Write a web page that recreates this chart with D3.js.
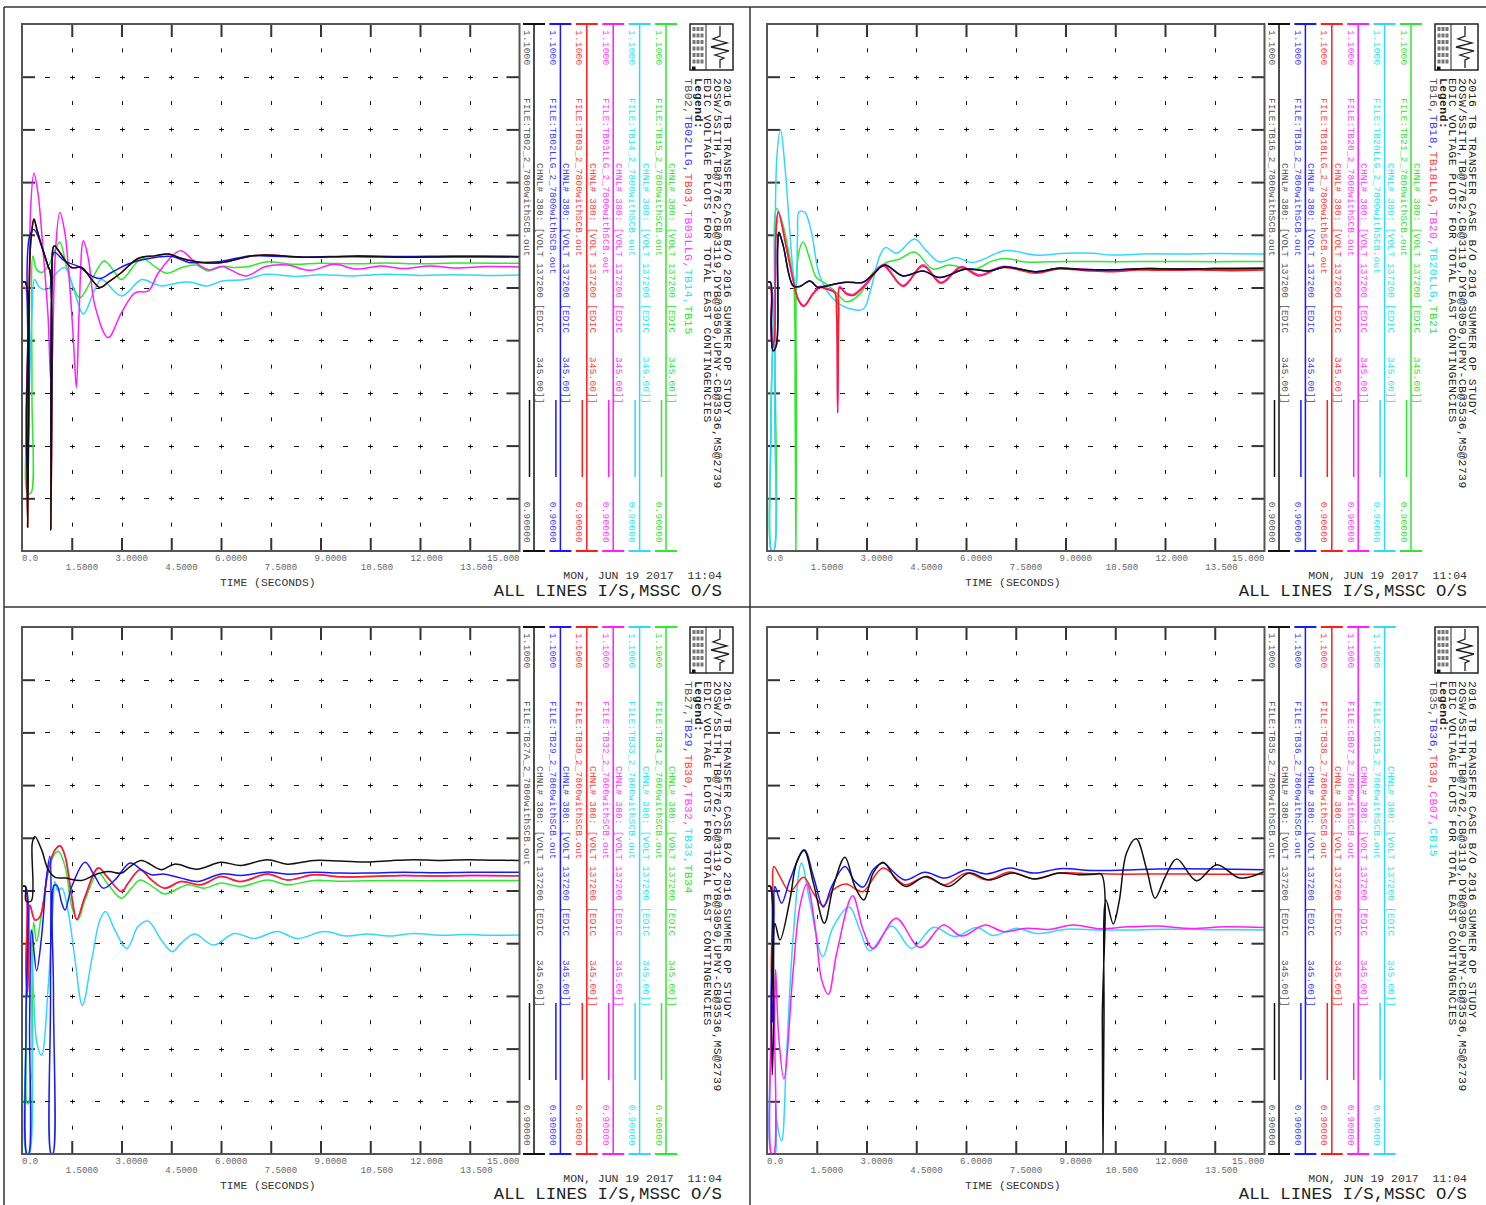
<!DOCTYPE html>
<html><head><meta charset="utf-8">
<script src="https://cdn.jsdelivr.net/npm/d3@7"></script>
<style>
body{margin:0;background:#fff;}
svg{display:block;}
text{font-family:"Liberation Mono","DejaVu Sans Mono",monospace;white-space:pre;}
</style></head><body>
<svg id="chart" width="1486" height="1205"></svg>
<script>
// ---- axes ----
const timeTicks = [0, 1.5, 3, 4.5, 6, 7.5, 9, 10.5, 12, 13.5, 15];
const timeLabels = ["0.0","1.5000","3.0000","4.5000","6.0000","7.5000","9.0000","10.500","12.000","13.500","15.000"];
const voltDomain = [0.9, 1.1];
const voltTopLabel = "1.1000";
const voltBottomLabel = "0.90000";
const seriesColors = ["#111111","#1616ff","#ff1c1c","#ff1cff","#33d6ff","#2ee82e"];
const labelColors  = ["#555555","#3a3aff","#ff4040","#ff40ff","#22e6f0","#33e033"];

const titleLines = [
  "2016 TB TRANSFER CASE B/O 2016 SUMMER OP STUDY",
  "2OSW/5SITH,TB@7762,CB@3119,DYB@3050,UPNY-CB@3536,MS@2739",
  "EDIC VOLTAGE PLOTS FOR TOTAL EAST CONTINGENCIES"
];
const channelLabel = "CHNL# 380: [VOLT 137200 [EDIC    345.00]]";
const runStamp = "MON, JUN 19 2017  11:04";
const caseLabel = "ALL LINES I/S,MSSC O/S";
const timeTitle = "TIME (SECONDS)";

// ---- bus voltage traces [time s, volt pu] ----
// Plot 1
const tb02 = [[0,1.002],[0.1,1.002],[0.14,0.95],[0.17,0.909],[0.2,0.95],[0.24,1.012],[0.3,1.022],[0.36,1.026],[0.45,1.022],[0.59,1.0158],[0.79,1.008],[0.85,1.006],[0.87,0.908],[0.9,1.0],[0.97,1.0158],[1.14,1.0133],[1.49,1.0076],[1.8,1.0076],[2.1,1.003],[2.35,1.0],[2.6,1.002],[3.0,1.0057],[3.5,1.011],[4.0,1.012],[4.42,1.0127],[4.82,1.011],[5.43,1.0095],[6.03,1.0095],[6.84,1.0118],[7.35,1.0123],[8.5,1.0115],[10,1.0118],[11.5,1.0115],[13,1.0117],[15,1.0116]];
const tb02llg = [[0,1.002],[0.1,1.002],[0.13,0.94],[0.17,0.93],[0.2,0.96],[0.23,1.0196],[0.36,1.022],[0.59,1.0158],[0.79,1.008],[0.85,1.006],[0.87,0.94],[0.9,1.0],[0.97,1.0133],[1.29,1.010],[1.7,1.008],[2.1,1.0044],[2.35,1.0034],[2.7,1.0057],[3.2,1.0089],[3.81,1.011],[4.52,1.0118],[5.03,1.0095],[5.43,1.0095],[6.03,1.010],[6.84,1.012],[7.35,1.012],[8.5,1.0115],[10,1.012],[11.5,1.0118],[13,1.012],[15,1.0118]];
const tb03 = [[0,1.002],[0.1,1.002],[0.14,0.95],[0.17,0.909],[0.2,0.95],[0.24,1.012],[0.3,1.022],[0.36,1.026],[0.45,1.022],[0.59,1.0158],[0.79,1.008],[0.85,1.006],[0.87,0.908],[0.9,1.0],[0.97,1.0158],[1.14,1.0133],[1.49,1.0076],[1.8,1.0076],[2.1,1.003],[2.35,1.0],[2.6,1.002],[3.0,1.0057],[3.5,1.011],[4.0,1.012],[4.42,1.0127],[4.82,1.011],[5.43,1.0095],[6.03,1.0095],[6.84,1.0118],[7.35,1.0123],[8.5,1.0115],[10,1.0118],[11.5,1.0115],[13,1.0117],[15,1.0116]];
const tb03llg = [[0,1.0],[0.1,1.0],[0.13,0.95],[0.17,0.93],[0.21,0.96],[0.26,1.03],[0.36,1.0434],[0.48,1.036],[0.64,1.0133],[0.79,0.988],[0.85,0.968],[0.88,0.9637],[0.92,0.975],[1.0,1.012],[1.14,1.0285],[1.29,1.021],[1.44,1.0006],[1.55,0.98],[1.64,0.962],[1.72,0.99],[1.85,1.0177],[2.0,1.011],[2.2,0.993],[2.6,0.981],[3.0,0.9905],[3.41,0.998],[3.81,0.9987],[4.12,1.0057],[4.77,1.0139],[5.23,1.0095],[5.63,1.0067],[6.03,1.008],[6.74,1.0044],[7.35,1.008],[8.0,1.0085],[8.7,1.0065],[9.4,1.0088],[10.1,1.007],[10.8,1.0082],[11.5,1.0072],[12.3,1.0082],[13.1,1.0074],[14,1.008],[15,1.0078]];
const tb14 = [[0,1.002],[0.1,1.002],[0.13,0.95],[0.17,0.933],[0.22,0.96],[0.3,0.99],[0.38,1.003],[0.53,1.0],[0.79,0.9994],[0.97,1.0044],[1.29,1.0076],[1.59,0.998],[1.85,0.9899],[2.2,0.9994],[2.4,1.003],[3.0,0.9968],[3.61,1.003],[4.0,1.0013],[4.2,1.0006],[4.82,1.002],[5.1,1.002],[5.58,1.0006],[6.03,1.0025],[6.74,1.003],[7.35,1.005],[8.2,1.0042],[9,1.0048],[10,1.0044],[11,1.005],[12,1.0046],[13,1.0048],[14,1.0046],[15,1.0047]];
const tb15 = [[0,1.002],[0.1,1.002],[0.13,0.95],[0.17,0.922],[0.27,0.922],[0.3,0.96],[0.33,1.012],[0.43,1.007],[0.59,1.0057],[0.79,1.008],[0.97,1.0133],[1.14,1.0173],[1.39,1.0057],[1.75,0.9962],[2.1,1.003],[2.48,1.0101],[2.8,1.0057],[3.0,1.003],[3.61,1.011],[4.0,1.008],[4.37,1.0054],[4.82,1.0076],[5.23,1.0085],[5.63,1.0063],[6.03,1.008],[6.44,1.0076],[6.84,1.008],[7.35,1.0097],[8.2,1.0088],[9,1.0092],[10,1.009],[11,1.0093],[12,1.009],[13,1.0093],[15,1.0092]];

// Plot 2
const tb16 = [[0,1.002],[0.1,1.002],[0.13,0.985],[0.18,0.976],[0.28,0.978],[0.32,1.015],[0.36,1.021],[0.49,1.0158],[0.79,1.0006],[0.99,1.0004],[1.29,1.0025],[1.54,1.0],[1.79,1.0006],[2.39,1.002],[2.9,1.002],[3.2,1.005],[3.55,1.0085],[4.1,1.0044],[4.7,1.0063],[5.2,1.0038],[6.0,1.007],[6.7,1.0063],[7.2,1.0078],[8.1,1.006],[8.8,1.0073],[9.6,1.0068],[10.4,1.0067],[11.5,1.0072],[12.5,1.007],[13.5,1.0072],[15,1.0073]];
const tb18 = [[0,1.002],[0.1,1.002],[0.13,0.985],[0.18,0.976],[0.28,0.978],[0.32,1.015],[0.36,1.021],[0.49,1.0158],[0.79,1.0006],[0.99,1.0004],[1.29,1.0025],[1.54,1.0],[1.79,1.0006],[2.39,1.002],[2.9,1.002],[3.2,1.005],[3.55,1.0085],[4.1,1.0044],[4.7,1.0063],[5.2,1.0038],[6.0,1.007],[6.7,1.0063],[7.2,1.0078],[8.1,1.006],[8.8,1.0073],[9.6,1.0068],[10.4,1.0067],[11.5,1.0072],[12.5,1.007],[13.5,1.0072],[15,1.0073]];
const tb18llg = [[0,1.0],[0.1,1.0],[0.12,0.985],[0.16,0.977],[0.22,0.98],[0.27,1.02],[0.34,1.0285],[0.59,1.0146],[0.79,1.0025],[0.95,0.995],[1.11,0.9928],[1.39,0.9975],[1.59,1.0],[1.79,0.9994],[2.04,0.998],[2.1,0.99],[2.13,0.9525],[2.16,0.99],[2.19,1.0],[2.39,0.9975],[2.6,0.997],[3.0,1.0013],[3.5,1.0082],[4.1,1.0004],[4.7,1.0082],[5.25,1.0016],[5.85,1.0076],[6.4,1.0044],[7.1,1.0076],[8.1,1.0054],[8.8,1.007],[9.6,1.0064],[10.4,1.006],[11.2,1.0066],[12,1.0065],[13,1.0066],[14,1.0064],[15,1.0066]];
const tb20 = [[0,1.0],[0.1,1.0],[0.12,0.985],[0.16,0.977],[0.22,0.98],[0.27,1.021],[0.34,1.0289],[0.59,1.015],[0.79,1.0029],[0.95,0.9954],[1.11,0.9932],[1.39,0.9979],[1.59,1.0004],[1.79,0.9998],[2.04,0.9984],[2.1,0.99],[2.13,0.9525],[2.16,0.99],[2.19,1.0004],[2.39,0.9979],[2.6,0.9974],[3.0,1.0017],[3.5,1.0086],[4.1,1.0008],[4.7,1.0086],[5.25,1.002],[5.85,1.008],[6.4,1.0048],[7.1,1.008],[8.1,1.0058],[8.8,1.0074],[9.6,1.0068],[10.4,1.0064],[11.2,1.007],[12,1.0069],[13,1.007],[14,1.0068],[15,1.007]];
const tb20llg = [[0,1.0],[0.1,1.0],[0.12,0.95],[0.14,0.9],[0.2,0.9],[0.23,0.96],[0.3,1.05],[0.41,1.06],[0.54,1.046],[0.69,1.021],[0.79,1.0057],[0.88,1.0],[0.92,1.02],[0.97,1.0287],[1.14,1.0285],[1.34,1.021],[1.59,1.0044],[2.0,0.9956],[2.39,0.9924],[2.9,0.9918],[3.1,0.998],[3.4,1.012],[3.58,1.0152],[3.9,1.013],[4.45,1.0184],[4.8,1.014],[5.2,1.0097],[5.7,1.0114],[6.2,1.0095],[7.2,1.014],[8.1,1.0123],[9.0,1.013],[9.8,1.013],[10.4,1.0123],[11.5,1.0128],[12.5,1.0127],[13.5,1.0129],[15,1.0127]];
const tb21 = [[0,1.002],[0.1,1.002],[0.12,0.95],[0.14,0.9],[0.2,0.9],[0.24,0.98],[0.29,1.03],[0.49,1.0234],[0.69,1.0108],[0.8,1.003],[0.85,0.95],[0.87,0.9],[0.89,0.95],[0.94,1.012],[1.09,1.0173],[1.29,1.0108],[1.49,1.0038],[1.79,1.0013],[2.09,0.998],[2.39,0.9946],[2.8,0.9975],[3.2,1.0057],[3.6,1.0095],[4.0,1.0108],[4.45,1.0135],[5.0,1.007],[5.5,1.0085],[6.2,1.0067],[6.8,1.0101],[7.2,1.011],[7.8,1.0097],[9,1.0099],[10.5,1.0098],[12,1.0099],[13.5,1.0098],[15,1.0099]];

// Plot 3
const tb27a = [[0,1.0015],[0.1,1.0015],[0.12,0.996],[0.28,0.996],[0.31,1.018],[0.39,1.0205],[0.59,1.0155],[0.79,1.0079],[1.0,1.005],[1.3,1.0047],[1.8,1.0038],[2.2,1.006],[2.6,1.0072],[3.0,1.0066],[3.26,1.0091],[3.6,1.0114],[4.2,1.0079],[4.6,1.01],[5.27,1.0081],[6.0,1.0107],[6.6,1.0095],[7.4,1.0117],[8.0,1.01],[8.8,1.0114],[9.6,1.0112],[10.4,1.0108],[11.1,1.0113],[11.8,1.0117],[12.6,1.0114],[13.45,1.0117],[14.2,1.0115],[15,1.0114]];
const tb29 = [[0,1.0015],[0.1,1.0015],[0.12,0.95],[0.15,0.9],[0.2,0.9],[0.23,0.95],[0.29,0.985],[0.44,0.9695],[0.59,0.9825],[0.74,1.0053],[0.84,1.013],[0.86,0.96],[0.88,0.9],[0.93,0.9],[0.95,0.96],[0.97,1.002],[1.05,1.002],[1.2,0.9952],[1.3,0.9926],[1.5,1.0015],[1.9,1.0107],[2.2,1.0053],[2.45,1.0009],[2.8,1.004],[3.26,1.0104],[3.6,1.0079],[3.9,1.006],[4.3,1.0062],[4.8,1.0047],[5.3,1.0034],[6.0,1.0063],[6.6,1.0057],[7.4,1.007],[8.0,1.0062],[8.8,1.0069],[9.6,1.0066],[10.4,1.0066],[11.5,1.0069],[12.5,1.0067],[13.5,1.0069],[15,1.0069]];
const tb30 = [[0,1.0015],[0.1,1.0015],[0.12,0.97],[0.16,0.96],[0.2,0.975],[0.24,0.9945],[0.39,0.9888],[0.54,0.99],[0.79,1.0079],[1.0,1.0155],[1.15,1.017],[1.3,1.013],[1.5,0.9977],[1.65,0.989],[1.9,0.9977],[2.3,1.0085],[2.6,1.0047],[3.0,0.9996],[3.2,1.0028],[3.56,1.0079],[3.9,1.004],[4.3,1.0009],[4.8,1.0034],[5.4,1.0022],[6.0,1.0053],[6.6,1.0034],[7.4,1.0063],[8.0,1.004],[8.8,1.006],[9.6,1.0052],[10.4,1.0053],[11.5,1.0057],[12.5,1.0055],[13.5,1.0057],[15,1.0056]];
const tb32 = [[0,1.0015],[0.1,1.0015],[0.12,0.97],[0.16,0.96],[0.2,0.975],[0.24,0.9945],[0.39,0.9888],[0.54,0.99],[0.79,1.0079],[1.0,1.0155],[1.15,1.017],[1.3,1.013],[1.5,0.9977],[1.65,0.989],[1.9,0.9977],[2.3,1.0085],[2.6,1.0047],[3.0,0.9996],[3.2,1.0028],[3.56,1.0079],[3.9,1.004],[4.3,1.0009],[4.8,1.0034],[5.4,1.0022],[6.0,1.0053],[6.6,1.0034],[7.4,1.0063],[8.0,1.004],[8.8,1.006],[9.6,1.0052],[10.4,1.0053],[11.5,1.0057],[12.5,1.0055],[13.5,1.0057],[15,1.0056]];
const tb33 = [[0,1.0015],[0.1,1.0015],[0.12,0.95],[0.14,0.9],[0.22,0.9],[0.25,0.985],[0.34,0.9634],[0.45,0.942],[0.59,0.9374],[0.79,0.9634],[0.94,0.995],[0.99,1.0034],[1.08,1.0],[1.2,1.0009],[1.4,0.9914],[1.6,0.9736],[1.82,0.9564],[2.1,0.9736],[2.35,0.9888],[2.52,0.992],[2.8,0.985],[3.16,0.978],[3.5,0.9863],[3.8,0.9884],[4.2,0.9812],[4.53,0.9768],[4.8,0.98],[5.2,0.9835],[5.77,0.9793],[6.4,0.9837],[7.0,0.9818],[7.7,0.9844],[8.3,0.9818],[9.1,0.9844],[9.8,0.9827],[10.4,0.9835],[11.1,0.9827],[11.8,0.9837],[12.6,0.983],[13.4,0.9833],[14.2,0.983],[15,0.9831]];
const tb34 = [[0,1.0015],[0.1,1.0015],[0.13,0.95],[0.16,0.919],[0.22,0.92],[0.26,0.928],[0.3,0.93],[0.32,0.96],[0.35,0.988],[0.44,0.9806],[0.59,0.9914],[0.79,1.0066],[0.97,1.0136],[1.1,1.0149],[1.3,1.0091],[1.5,0.9939],[1.68,0.9888],[1.9,0.9964],[2.3,1.0066],[2.6,1.0022],[3.0,0.9971],[3.3,1.0009],[3.56,1.004],[4.0,1.0009],[4.3,0.9987],[5.0,1.0022],[5.5,1.0009],[6.0,1.0028],[6.6,1.0015],[7.4,1.004],[8.0,1.0022],[8.8,1.0038],[9.6,1.0035],[10.4,1.0037],[11.5,1.0038],[12.5,1.0037],[13.5,1.0038],[15,1.0038]];

// Plot 4
const tb35 = [[0,1.0015],[0.1,1.0015],[0.13,0.95],[0.16,0.93],[0.2,0.95],[0.24,0.9875],[0.39,0.9812],[0.69,0.9964],[0.89,1.0104],[1.12,1.0152],[1.4,1.0028],[1.73,0.9876],[2.0,1.0015],[2.35,1.0126],[2.65,1.0015],[2.92,0.9964],[3.2,1.0066],[3.5,1.0107],[3.9,1.004],[4.2,1.0015],[4.8,1.0053],[5.47,1.0015],[6.1,1.0066],[6.7,1.004],[7.4,1.0066],[8.08,1.0044],[8.8,1.0066],[9.4,1.006],[9.9,1.0062],[10.08,1.0062],[10.11,0.95],[10.13,0.9],[10.16,0.95],[10.22,0.9964],[10.44,0.9873],[10.62,0.996],[10.84,1.0142],[11.13,1.0196],[11.45,1.0079],[11.7,0.9971],[12.0,1.005],[12.35,1.012],[12.95,1.0037],[13.56,1.0098],[14.26,1.0047],[15,1.0072]];
const tb36 = [[0,1.0015],[0.1,1.0015],[0.13,0.96],[0.17,0.95],[0.21,0.99],[0.24,1.0015],[0.44,0.9952],[0.69,1.004],[1.12,1.0155],[1.4,1.0053],[1.7,0.9937],[1.95,1.0015],[2.35,1.0091],[2.65,1.0034],[2.9,1.0013],[3.2,1.0079],[3.5,1.0104],[3.8,1.0072],[4.16,1.004],[4.76,1.0069],[5.37,1.0047],[6.02,1.0079],[6.62,1.0063],[7.33,1.0085],[8.03,1.0066],[8.83,1.0083],[9.8,1.0076],[10.8,1.0078],[11.8,1.0082],[13.5,1.0082],[15,1.0079]];
const tb38 = [[0,1.0015],[0.1,1.0015],[0.13,0.97],[0.17,0.96],[0.19,0.99],[0.21,1.0091],[0.39,1.0053],[0.69,0.9996],[1.1,1.005],[1.4,0.999],[1.7,0.9942],[2.0,1.0003],[2.4,1.0025],[2.7,1.0003],[2.9,0.9996],[3.5,1.0085],[4.16,1.0022],[4.76,1.0051],[5.37,1.0022],[6.02,1.0066],[6.62,1.004],[7.33,1.007],[8.03,1.0044],[8.83,1.0066],[9.8,1.0064],[10.8,1.0062],[12,1.0063],[13.5,1.0062],[15,1.0062]];
const cb07 = [[0,1.0015],[0.1,1.0015],[0.12,0.95],[0.14,0.9],[0.2,0.9],[0.23,0.95],[0.26,0.97],[0.35,0.945],[0.51,0.9285],[0.79,0.9698],[0.99,0.9939],[1.2,1.0025],[1.45,0.9863],[1.65,0.966],[1.85,0.9606],[2.1,0.9761],[2.58,0.998],[2.9,0.985],[3.2,0.978],[3.89,0.9895],[4.61,0.9784],[5.32,0.9869],[5.87,0.9827],[6.57,0.9869],[7.13,0.9844],[7.83,0.9857],[8.5,0.9852],[9.24,0.9869],[10.0,0.9855],[10.9,0.9862],[11.75,0.9865],[12.8,0.9856],[13.8,0.9862],[15,0.986]];
const cb15 = [[0,1.0015],[0.1,1.0015],[0.12,0.95],[0.14,0.9],[0.24,0.9],[0.26,0.918],[0.3,0.912],[0.44,0.905],[0.59,0.938],[0.79,0.9825],[1.04,1.0104],[1.3,0.9952],[1.68,0.9749],[2.0,0.9863],[2.48,0.9937],[2.8,0.985],[3.1,0.9771],[3.76,0.9865],[4.36,0.978],[5.01,0.986],[5.67,0.9825],[6.32,0.986],[6.82,0.9829],[7.53,0.9857],[8.13,0.9837],[9.04,0.9853],[10.0,0.985],[10.84,0.985],[12,0.9853],[13,0.9852],[14,0.9851],[15,0.985]];

// ---- plot pages ----
const panels = [
  {ox:0,   oy:0,   names:["TB02","TB02LLG","TB03","TB03LLG","TB14","TB15"],
   files:["TB02","TB02LLG","TB03","TB03LLG","TB14","TB15"], data:[tb02,tb02llg,tb03,tb03llg,tb14,tb15]},
  {ox:745, oy:0,   names:["TB16","TB18","TB18LLG","TB20","TB20LLG","TB21"],
   files:["TB16","TB18","TB18LLG","TB20","TB20LLG","TB21"], data:[tb16,tb18,tb18llg,tb20,tb20llg,tb21]},
  {ox:0,   oy:603, names:["TB27","TB29","TB30","TB32","TB33","TB34"],
   files:["TB27A","TB29","TB30","TB32","TB33","TB34"], data:[tb27a,tb29,tb30,tb32,tb33,tb34]},
  {ox:745, oy:603, names:["TB35","TB36","TB38","CB07","CB15"],
   files:["TB35","TB36","TB38","CB07","CB15"], data:[tb35,tb36,tb38,cb07,cb15]}
];

const svg = d3.select("#chart");

// page frame
const frame = svg.append("g").attr("stroke","#333").attr("stroke-width",1.5);
[[4,7,4,1205],[750,7,750,1205],[4,7,1486,7],[4,607,1486,607]].forEach(([a,b,c,d]) =>
  frame.append("line").attr("x1",a).attr("y1",b).attr("x2",c).attr("y2",d));

const halfSteps = d3.range(1,20).map(k => k*0.75);
const majorT = d3.range(1,10).map(k => k*1.5);
const voltMajor = d3.range(1,10).map(k => 0.9 + k*0.02);
const voltMinor = d3.range(0,10).map(k => 0.91 + k*0.02);

panels.forEach((p, pi) => {
  const g = svg.append("g").attr("transform", `translate(${p.ox},${p.oy})`);
  const x0 = 22, x1 = 519.5, yt = 24, yb = 551;
  const xs = d3.scaleLinear().domain([0,15]).range([x0,x1]);
  const ys = d3.scaleLinear().domain(voltDomain).range([yb,yt]);

  // border ticks through d3 axes
  const tickStyle = sel => { sel.select(".domain").remove();
    sel.selectAll(".tick line").attr("stroke","#333").attr("stroke-width",2); };
  g.append("g").attr("transform",`translate(0,${yt})`)
    .call(d3.axisBottom(xs).tickValues(majorT).tickSize(13).tickFormat("")).call(tickStyle);
  g.append("g").attr("transform",`translate(0,${yb})`)
    .call(d3.axisTop(xs).tickValues(majorT).tickSize(13).tickFormat("")).call(tickStyle);
  g.append("g").attr("transform",`translate(${x0},0)`)
    .call(d3.axisRight(ys).tickValues(voltMajor).tickSize(13).tickFormat("")).call(tickStyle);
  g.append("g").attr("transform",`translate(${x1},0)`)
    .call(d3.axisLeft(ys).tickValues(voltMajor).tickSize(13).tickFormat("")).call(tickStyle);

  // interior grid marks
  const marks = g.append("g").attr("stroke","#111").attr("stroke-width",1);
  voltMajor.forEach(v => {
    halfSteps.forEach((t,k) => {
      const cx = Math.round(xs(t)) + 0.5, cy = Math.round(ys(v)) + 0.5;
      marks.append("line").attr("x1",cx-2.5).attr("x2",cx+2.5).attr("y1",cy).attr("y2",cy);
      if (k % 2 === 1) marks.append("line").attr("x1",cx).attr("x2",cx).attr("y1",cy-2).attr("y2",cy+2);
    });
  });
  voltMinor.forEach(v => {
    majorT.forEach(t => {
      const cx = Math.round(xs(t)) + 0.5, cy = ys(v);
      marks.append("line").attr("x1",cx).attr("x2",cx).attr("y1",cy-2).attr("y2",cy+2);
    });
  });

  // curves
  const clipId = "clip" + pi;
  g.append("clipPath").attr("id",clipId).append("rect")
    .attr("x",x0).attr("y",yt).attr("width",x1-x0).attr("height",yb-yt);
  const line = d3.line().x(d => xs(d[0])).y(d => ys(d[1])).curve(d3.curveCatmullRom.alpha(0.5));
  const curves = g.append("g").attr("clip-path",`url(#${clipId})`);
  for (let i = p.data.length - 1; i >= 0; i--) {
    curves.append("path").attr("d", line(p.data[i])).attr("fill","none")
      .attr("stroke", seriesColors[i]).attr("stroke-width",1.5).attr("stroke-linejoin","round");
  }

  // plot box
  g.append("rect").attr("x",x0).attr("y",yt).attr("width",x1-x0).attr("height",yb-yt)
    .attr("fill","none").attr("stroke","#555").attr("stroke-width",2);

  // time labels
  timeTicks.forEach((t,i) => {
    const lbl = timeLabels[i];
    let x = xs(t), anchor = "start";
    if (i === timeTicks.length - 1) { anchor = "end"; }
    else if (i > 0) { x -= (lbl.indexOf(".") > 1 ? 9.5 : 6); }
    g.append("text").attr("x",x).attr("y", i % 2 === 0 ? yb+9.5 : yb+18.5)
      .attr("text-anchor",anchor).attr("font-size",9).attr("fill","#666").text(lbl);
  });
  g.append("text").attr("x",(x0+x1)/2 - 3).attr("y",yb+35).attr("text-anchor","middle")
    .attr("font-size",11.4).attr("fill","#333").text(timeTitle);
  g.append("text").attr("x",722).attr("y",yb+27.5).attr("text-anchor","end")
    .attr("font-size",11.5).attr("fill","#333").text(runStamp);
  g.append("text").attr("x",722).attr("y",yb+45).attr("text-anchor","end")
    .attr("font-size",17.3).attr("fill","#222").text(caseLabel);

  // per-channel scale columns
  p.data.forEach((d,i) => {
    const ax = 534 + i*26.4;
    const col = g.append("g");
    const c = seriesColors[i], tc = labelColors[i];
    col.append("line").attr("x1",ax).attr("x2",ax).attr("y1",yt).attr("y2",yb)
      .attr("stroke",c).attr("stroke-width",1.5);
    [yt,yb].forEach(yy => col.append("line").attr("x1",ax-11).attr("x2",ax+11)
      .attr("y1",yy).attr("y2",yy).attr("stroke",c).attr("stroke-width",2));
    col.append("line").attr("x1",ax-4.5).attr("x2",ax-4.5).attr("y1",yt+376).attr("y2",yt+453)
      .attr("stroke",c).attr("stroke-width",1.5);
    const rt = (x,y,s,anchor) => col.append("text")
      .attr("transform",`translate(${x},${y}) rotate(90)`).attr("text-anchor",anchor||"start")
      .attr("font-size",9.4).attr("letter-spacing",0.25).attr("fill",tc).text(s);
    rt(ax-10.5, yt+6, voltTopLabel);
    rt(ax-10.5, yt+74, `FILE:${p.files[i]}_2_7800withSCB.out`);
    rt(ax+3, yt+139, channelLabel);
    rt(ax-10.5, yb-8, voltBottomLabel, "end");
  });

  // logo box
  const logo = g.append("g");
  logo.append("rect").attr("x",690).attr("y",24).attr("width",43).attr("height",46)
    .attr("fill","#fff").attr("stroke","#222").attr("stroke-width",1.5);
  logo.append("line").attr("x1",706).attr("x2",706).attr("y1",24).attr("y2",70)
    .attr("stroke","#222").attr("stroke-width",1);
  for (let r = 0; r < 6; r++) for (let k = 0; k < 3; k++) {
    logo.append("rect").attr("x",692.5 + k*4).attr("y",27 + r*6.5).attr("width",3)
      .attr("height",4).attr("fill","#777");
  }
  logo.append("rect").attr("x",692).attr("y",66.5).attr("width",3.5).attr("height",3.5).attr("fill","#111");
  logo.append("path").attr("d","M720,26 L720,36 L713,39 L727,43 L711,47 L729,51 L715,55 L724,58 L720,60 L720,68")
    .attr("fill","none").attr("stroke","#222").attr("stroke-width",1.3);

  // heading block
  const head = g.append("g");
  const hx = i => 724 - i*9.8;
  const headText = (i, s, bold) => head.append("text")
    .attr("transform",`translate(${hx(i)},78) rotate(90)`)
    .attr("font-size",11.4).attr("letter-spacing",0.5)
    .attr("font-weight", bold ? "bold" : "normal").attr("fill","#222").text(s);
  titleLines.forEach((s,i) => headText(i, s, false));
  headText(3, "Legend:", true);
  const lg = headText(4, "", false);
  p.names.forEach((n,i) => lg.append("tspan").attr("fill",labelColors[i])
    .text(n + (i < p.names.length - 1 ? "," : "")));
});
</script>
</body></html>
